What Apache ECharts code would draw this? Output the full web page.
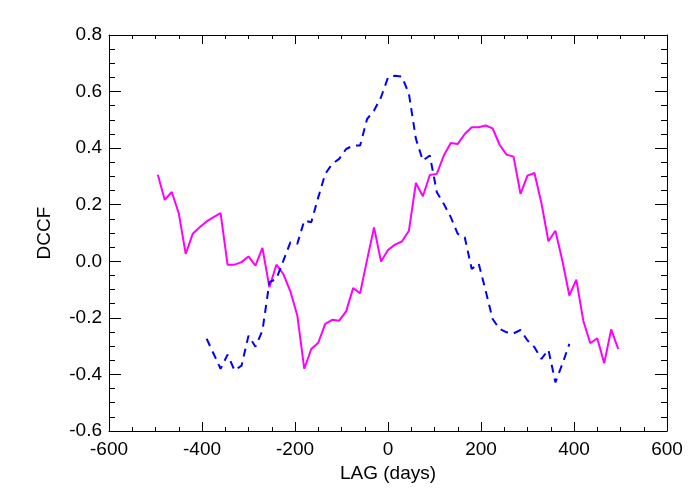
<!DOCTYPE html>
<html>
<head>
<meta charset="utf-8">
<script src="https://cdn.jsdelivr.net/npm/echarts@6/dist/echarts.min.js"></script>
<style>html,body{margin:0;padding:0;background:#fff;}#c{width:700px;height:500px;}</style>
</head>
<body>
<div id="c"></div>
<script>
const lagsMagenta = [-495,-480,-465,-450,-435,-420,-405,-390,-375,-360,-345,-330,-315,-300,-285,-270,-255,-240,-225,-210,-195,-180,-165,-150,-135,-120,-105,-90,-75,-60,-45,-30,-15,0,15,30,45,60,75,90,105,120,135,150,165,180,195,210,225,240,255,270,285,300,315,330,345,360,375,390,405,420,435,450,465,480,495];
const dccfMagenta = [0.306,0.217,0.245,0.17,0.026,0.097,0.12,0.141,0.156,0.17,-0.012,-0.012,-0.003,0.017,-0.015,0.047,-0.092,-0.012,-0.045,-0.106,-0.192,-0.38,-0.31,-0.288,-0.221,-0.207,-0.21,-0.177,-0.095,-0.113,0.005,0.12,-0.001,0.04,0.059,0.07,0.108,0.277,0.23,0.305,0.309,0.374,0.418,0.415,0.45,0.474,0.474,0.48,0.47,0.412,0.377,0.37,0.238,0.303,0.312,0.205,0.071,0.108,0.002,-0.121,-0.065,-0.21,-0.29,-0.272,-0.36,-0.241,-0.31];
const lagsBlue = [-390,-375,-360,-345,-330,-315,-300,-285,-270,-255,-240,-225,-210,-195,-180,-165,-150,-135,-120,-105,-90,-75,-60,-45,-30,-15,0,15,30,45,60,75,90,105,120,135,150,165,180,195,210,225,240,255,270,285,300,315,330,345,360,375,390];
const dccfBlue = [-0.274,-0.327,-0.38,-0.33,-0.386,-0.369,-0.263,-0.302,-0.245,-0.074,-0.062,0.002,0.067,0.062,0.144,0.138,0.226,0.309,0.344,0.362,0.397,0.409,0.409,0.503,0.533,0.58,0.65,0.656,0.653,0.592,0.433,0.356,0.374,0.244,0.203,0.156,0.097,0.085,-0.027,-0.008,-0.104,-0.204,-0.239,-0.251,-0.255,-0.243,-0.28,-0.304,-0.345,-0.313,-0.428,-0.363,-0.292];
const xTitle = 'LAG (days)';
const yTitle = 'DCCF';

const FONT = 'Liberation Sans, Arial, Helvetica, sans-serif';
const FS = 19;
const chart = echarts.init(document.getElementById('c'), null, {renderer: 'canvas'});
function xAx(pos, labels) {
  return {
    type: 'value', position: pos, min: -600, max: 600, interval: 200,
    axisLine: {show: true, onZero: false, lineStyle: {color: '#000', width: 1}},
    axisTick: {show: true, inside: true, length: 9, lineStyle: {color: '#000'}},
    minorTick: {show: true, splitNumber: 4, length: 4, lineStyle: {color: '#000'}},
    splitLine: {show: false},
    axisLabel: {show: labels, color: '#000', fontSize: FS, fontFamily: FONT, margin: 9},
    name: labels ? xTitle : '', nameLocation: 'middle', nameGap: 28,
    nameTextStyle: {color: '#000', fontSize: FS, fontFamily: FONT}
  };
}
function yAx(pos, labels) {
  return {
    type: 'value', position: pos, min: -0.6, max: 0.8, interval: 0.2,
    axisLine: {show: true, onZero: false, lineStyle: {color: '#000', width: 1}},
    axisTick: {show: true, inside: true, length: 12, lineStyle: {color: '#000'}},
    minorTick: {show: true, splitNumber: 4, length: 6, lineStyle: {color: '#000'}},
    splitLine: {show: false},
    axisLabel: {show: labels, color: '#000', fontSize: FS, fontFamily: FONT, margin: 7,
      formatter: v => v.toFixed(1)},
    name: labels ? yTitle : '', nameLocation: 'middle', nameGap: 55, nameRotate: 90,
    nameTextStyle: {color: '#000', fontSize: FS, fontFamily: FONT}
  };
}
chart.setOption({
  animation: false,
  backgroundColor: '#fff',
  grid: {left: 109, right: 33, top: 35, bottom: 69, containLabel: false},
  xAxis: [xAx('bottom', true), xAx('top', false)],
  yAxis: [yAx('left', true), yAx('right', false)],
  series: [
    {type: 'line', xAxisIndex: 0, yAxisIndex: 0, showSymbol: false, symbol: 'none',
     data: lagsMagenta.map((x, i) => [x, dccfMagenta[i]]),
     lineStyle: {color: '#ff00ff', width: 2}},
    {type: 'line', xAxisIndex: 0, yAxisIndex: 0, showSymbol: false, symbol: 'none',
     data: lagsBlue.map((x, i) => [x, dccfBlue[i]]),
     lineStyle: {color: '#0000ff', width: 2, type: [8, 6]}}
  ]
});
</script>
</body>
</html>
